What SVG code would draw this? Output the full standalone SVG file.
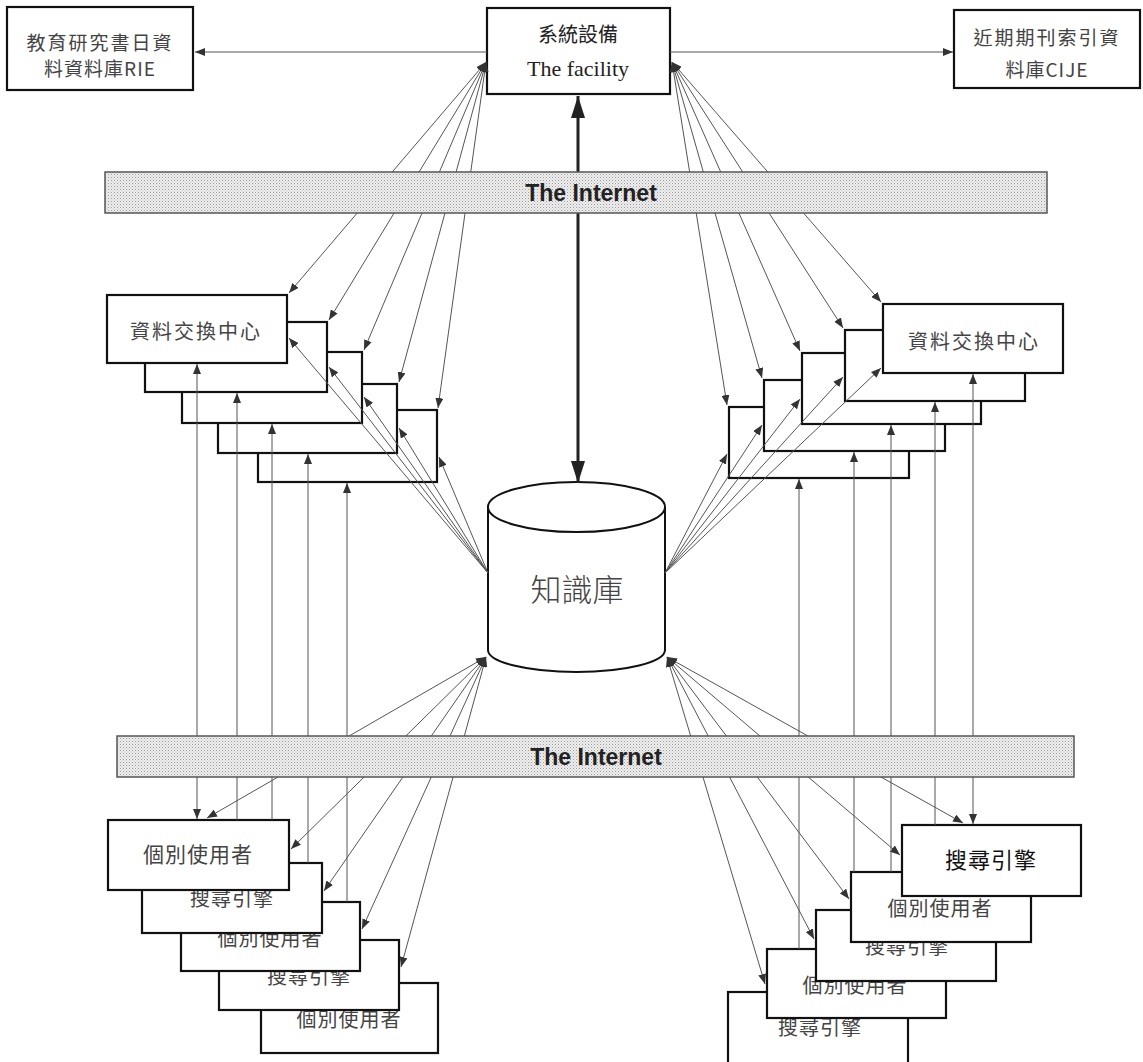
<svg xmlns="http://www.w3.org/2000/svg" width="1143" height="1062" viewBox="0 0 1143 1062">
<style>
.box{fill:#fff;stroke:#111;stroke-width:2.2}
.cj{font-family:"Noto Sans CJK TC","Noto Sans CJK SC",sans-serif;fill:#444;text-anchor:middle}
.en{font-family:"Liberation Sans",Arial,sans-serif;text-anchor:middle}
.ser{font-family:"Liberation Serif","Times New Roman",serif;text-anchor:middle;fill:#222}
.ln{stroke:#555;stroke-width:1;fill:none}
.a2{marker-start:url(#ah);marker-end:url(#ah)}
.ae{marker-end:url(#ah)}
.as{marker-start:url(#ah)}
.bar{fill:url(#dots);stroke:#555;stroke-width:1.5}
</style>
<defs>
<marker id="ah" viewBox="0 0 10 8" refX="10" refY="4" markerWidth="10" markerHeight="8" markerUnits="userSpaceOnUse" orient="auto-start-reverse">
<path d="M0,0 L10,4 L0,8 z" fill="#333"/>
</marker>
<marker id="big" viewBox="0 0 22 14" refX="22" refY="7" markerWidth="22" markerHeight="14" markerUnits="userSpaceOnUse" orient="auto-start-reverse">
<path d="M0,0 L22,7 L0,14 z" fill="#222"/>
</marker>
<pattern id="dots" width="3" height="3" patternUnits="userSpaceOnUse">
<rect width="3" height="3" fill="#ededed"/>
<rect x="0" y="0" width="1" height="1" fill="#9c9c9c"/>
<rect x="1.5" y="1.5" width="1" height="1" fill="#c4c4c4"/>
</pattern>
</defs>
<rect width="1143" height="1062" fill="#fff"/>

<g id="rie">
<rect class="box" x="7" y="7" width="186" height="83"/>
<text class="cj" x="100" y="50" font-size="19" letter-spacing="2">教育研究書日資</text>
<text class="cj" x="100" y="76" font-size="19" letter-spacing="1">料資料庫RIE</text>
</g>
<g id="facility">
<rect class="box" x="487" y="8" width="183" height="86"/>
<text class="cj" x="578" y="42" font-size="20" style="fill:#222">系統設備</text>
<text class="ser" x="578" y="76" font-size="22">The facility</text>
</g>
<g id="cije">
<rect class="box" x="954" y="10" width="186" height="78"/>
<text class="cj" x="1047" y="45" font-size="19" letter-spacing="2">近期期刊索引資</text>
<text class="cj" x="1047" y="77" font-size="19" letter-spacing="1">料庫CIJE</text>
</g>

<g id="exchange-left">
<rect class="box" x="258" y="410" width="179" height="72"/>
<rect class="box" x="218" y="384" width="179" height="69"/>
<rect class="box" x="182" y="352" width="180" height="71"/>
<rect class="box" x="145" y="322" width="182" height="70"/>
<rect class="box" x="107" y="295" width="180" height="68"/>
<text class="cj" x="196" y="339" font-size="20" letter-spacing="2">資料交換中心</text>
</g>
<g id="exchange-right">
<rect class="box" x="729" y="407" width="180" height="71"/>
<rect class="box" x="764" y="380" width="181" height="71"/>
<rect class="box" x="802" y="353" width="179" height="71"/>
<rect class="box" x="845" y="330" width="180" height="71"/>
<rect class="box" x="883" y="304" width="180" height="69"/>
<text class="cj" x="974" y="349" font-size="20" letter-spacing="2">資料交換中心</text>
</g>

<g id="knowledge-base">
<path d="M488,507 L488,650 A88.5,22 0 0 0 665,650 L665,507" fill="#fff" stroke="#111" stroke-width="2"/>
<ellipse cx="576.5" cy="507" rx="88.5" ry="25" fill="#fff" stroke="#111" stroke-width="2"/>
<text class="cj" x="577" y="601" font-size="31" font-weight="300">知識庫</text>
</g>

<g id="users-left">
<rect class="box" x="261" y="983" width="177" height="70"/>
<text class="cj" x="349" y="1027" font-size="20" letter-spacing="1">個別使用者</text>
<rect class="box" x="219" y="940" width="180" height="70"/>
<text class="cj" x="309" y="984" font-size="20" letter-spacing="1">搜尋引擎</text>
<rect class="box" x="181" y="902" width="179" height="69"/>
<text class="cj" x="270" y="946" font-size="20" letter-spacing="1">個別使用者</text>
<rect class="box" x="142" y="863" width="180" height="70"/>
<text class="cj" x="232" y="906" font-size="20" letter-spacing="1">搜尋引擎</text>
<rect class="box" x="108" y="820" width="181" height="70"/>
<text class="cj" x="198" y="862" font-size="21" letter-spacing="1">個別使用者</text>
</g>
<g id="users-right">
<rect class="box" x="728" y="992" width="180" height="80"/>
<text class="cj" x="820" y="1035" font-size="20" letter-spacing="1">搜尋引擎</text>
<rect class="box" x="767" y="949" width="179" height="69"/>
<text class="cj" x="855" y="993" font-size="20" letter-spacing="1">個別使用者</text>
<rect class="box" x="816" y="910" width="180" height="71"/>
<text class="cj" x="907" y="954" font-size="20" letter-spacing="1">搜尋引擎</text>
<rect class="box" x="851" y="872" width="180" height="70"/>
<text class="cj" x="940" y="916" font-size="20" letter-spacing="1">個別使用者</text>
<rect class="box" x="902" y="825" width="179" height="71"/>
<text class="cj" x="991" y="868" font-size="22" letter-spacing="1" style="fill:#111">搜尋引擎</text>
</g>

<g id="connectors">
<path class="ln ae" d="M487,52 L195,52"/>
<path class="ln ae" d="M670,52 L953,52"/>
<path d="M578,96 L578,483" stroke="#222" stroke-width="3" marker-start="url(#big)" marker-end="url(#big)"/>
<path class="ln a2" d="M486,62 L289,293"/>
<path class="ln a2" d="M486,62 L329,320"/>
<path class="ln a2" d="M486,62 L364,350"/>
<path class="ln a2" d="M486,62 L399,382"/>
<path class="ln a2" d="M486,62 L438,408"/>
<path class="ln a2" d="M672,62 L881,302"/>
<path class="ln a2" d="M672,62 L843,328"/>
<path class="ln a2" d="M672,62 L800,351"/>
<path class="ln a2" d="M672,62 L762,378"/>
<path class="ln a2" d="M672,62 L727,405"/>
<path class="ln ae" d="M488,573 L289,338"/>
<path class="ln ae" d="M488,573 L329,367"/>
<path class="ln ae" d="M488,573 L364,397"/>
<path class="ln ae" d="M488,573 L399,428"/>
<path class="ln ae" d="M488,573 L439,457"/>
<path class="ln ae" d="M665,573 L881,368"/>
<path class="ln ae" d="M665,573 L843,377"/>
<path class="ln ae" d="M665,573 L800,399"/>
<path class="ln ae" d="M665,573 L762,425"/>
<path class="ln ae" d="M665,573 L727,454"/>
<path class="ln a2" d="M486,657 L207,818"/>
<path class="ln a2" d="M486,657 L291,849"/>
<path class="ln a2" d="M486,657 L324,891"/>
<path class="ln a2" d="M486,657 L362,929"/>
<path class="ln a2" d="M486,657 L401,967"/>
<path class="ln a2" d="M667,657 L963,823"/>
<path class="ln a2" d="M667,657 L900,855"/>
<path class="ln a2" d="M667,657 L849,899"/>
<path class="ln a2" d="M667,657 L814,939"/>
<path class="ln a2" d="M667,657 L765,984"/>
<path class="ln a2" d="M197,364 L197,819"/>
<path class="ln as" d="M237,393 L237,820"/>
<path class="ln as" d="M272,424 L272,820"/>
<path class="ln as" d="M308,454 L308,863"/>
<path class="ln as" d="M347,483 L347,902"/>
<path class="ln a2" d="M973,374 L973,824"/>
<path class="ln as" d="M935,402 L935,825"/>
<path class="ln as" d="M891,425 L891,872"/>
<path class="ln as" d="M854,452 L854,872"/>
<path class="ln as" d="M799,479 L799,949"/>
</g>

<g id="internet-top">
<rect class="bar" x="105" y="172" width="942" height="41"/>
<text class="en" x="591" y="201" font-size="23" font-weight="bold" fill="#222">The Internet</text>
</g>
<g id="internet-bottom">
<rect class="bar" x="117" y="736" width="957" height="41"/>
<text class="en" x="596" y="765" font-size="23" font-weight="bold" fill="#222">The Internet</text>
</g>
</svg>
